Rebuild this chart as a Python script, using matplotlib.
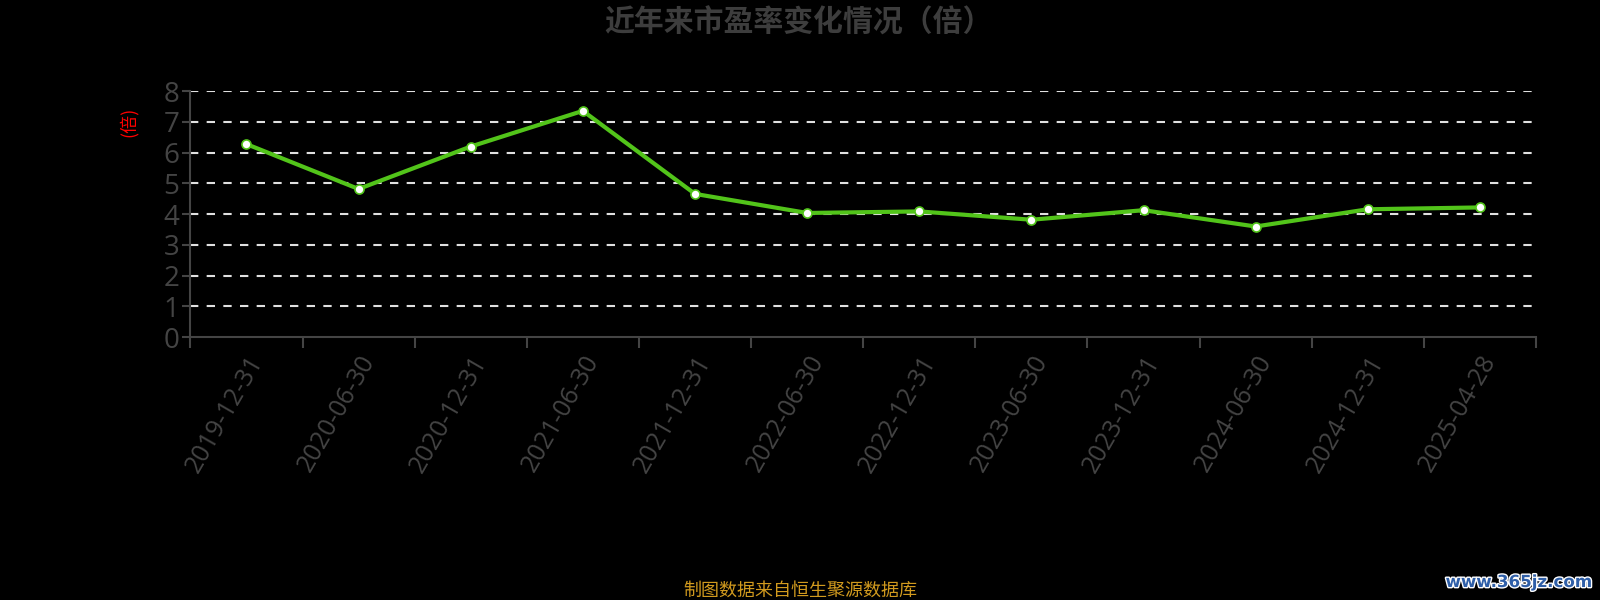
import matplotlib
matplotlib.use("Agg")
import matplotlib.pyplot as plt
import matplotlib.patheffects as pe

plt.rcParams['font.family'] = ['Noto Sans CJK SC', 'DejaVu Sans']

dates = ["2019-12-31", "2020-06-30", "2020-12-31", "2021-06-30", "2021-12-31",
         "2022-06-30", "2022-12-31", "2023-06-30", "2023-12-31", "2024-06-30",
         "2024-12-31", "2025-04-28"]
pe_ratio = [6.28, 4.82, 6.20, 7.36, 4.66, 4.04, 4.09, 3.82, 4.13, 3.60, 4.16, 4.22]
yticks = [0, 1, 2, 3, 4, 5, 6, 7, 8]

gray = "#444444"

fig = plt.figure(figsize=(16, 6), dpi=100, facecolor="black")
ax = fig.add_axes([0.119, 0.438, 0.841, 0.41], facecolor="black")

x = list(range(len(dates)))
ax.plot(x, pe_ratio, color="#52c41a", lw=3, zorder=3,
        marker="o", markersize=6.5, markerfacecolor="white",
        markeredgecolor="#52c41a", markeredgewidth=1.2)

ax.set_ylim(0, 8)
ax.set_xlim(-0.5, len(dates) - 0.5)
ax.set_yticks(yticks)
ax.set_yticklabels([str(v) for v in yticks], fontsize=20, color=gray,
                   family=['Open Sans', 'DejaVu Sans'])
ax.tick_params(axis='y', length=6, color=gray, width=1.5, pad=2)

for v in yticks[1:]:
    ax.axhline(v, color="#e0e0e0", lw=1.5, ls=(0, (4, 4)), zorder=1)

# category boundaries as ticks, labels at centers
ax.set_xticks([i - 0.5 for i in range(len(dates) + 1)])
ax.set_xticklabels([])
ax.tick_params(axis='x', which='major', length=8, color=gray, width=1.5)
ax.set_xticks(x, minor=True)
ax.set_xticklabels(dates, minor=True, rotation=60, ha='right',
                   rotation_mode='anchor', fontsize=18, color=gray,
                   family=['Open Sans', 'DejaVu Sans'])
ax.tick_params(axis='x', which='minor', length=0, pad=10)

for s in ["top", "right"]:
    ax.spines[s].set_visible(False)
for s in ["left", "bottom"]:
    ax.spines[s].set_color(gray)
    ax.spines[s].set_linewidth(1.5)

fig.text(0.080, 0.797, "(倍)", rotation=90, ha="center", va="center",
         color="red", fontsize=13)

fig.text(0.499, 0.963, "近年来市盈率变化情况（倍）", ha="center", va="center",
         fontsize=21.5, fontweight="bold", color="#3d3d3d")
fig.text(0.5, 0.015, "制图数据来自恒生聚源数据库", ha="center", va="center",
         fontsize=13, color="#d19a1e")
fig.text(0.995, 0.03, "www.365jz.com", ha="right", va="center",
         fontsize=12, fontweight="bold", color="#2f5fa8",
         family=['DejaVu Sans'],
         path_effects=[pe.withStroke(linewidth=2, foreground="white")])

fig.savefig("out.png", dpi=100, facecolor="black")
